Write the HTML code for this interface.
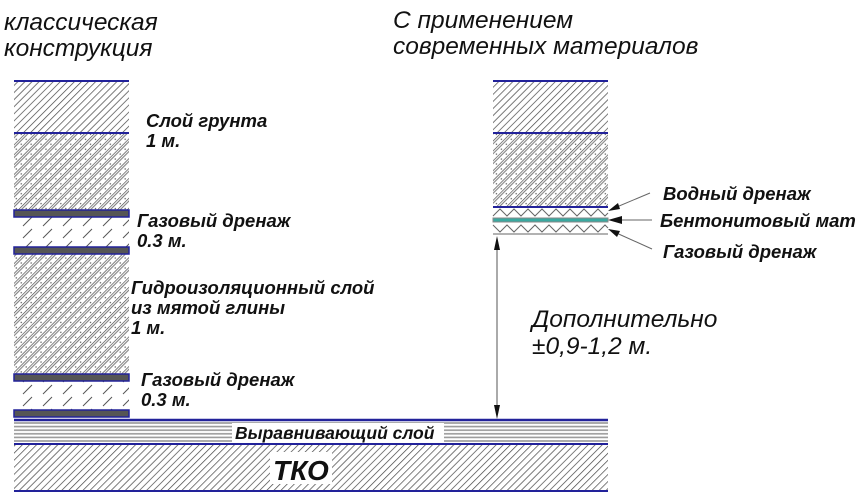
<!DOCTYPE html>
<html><head><meta charset="utf-8"><style>
html,body{margin:0;padding:0;background:#fff;width:864px;height:495px;overflow:hidden}
svg{display:block}
.t{font-family:"Liberation Sans","DejaVu Sans",sans-serif;font-style:italic;font-weight:bold;font-size:18.5px;fill:#111}
.h{font-family:"Liberation Sans","DejaVu Sans",sans-serif;font-style:italic;font-size:24.5px;fill:#111}
</style></head><body>
<svg width="864" height="495" viewBox="0 0 864 495">
<defs>
<pattern id="dense" width="5" height="5" patternUnits="userSpaceOnUse" patternTransform="rotate(45)">
<rect width="5" height="5" fill="#fff"/><line x1="0" y1="0" x2="0" y2="5" stroke="#444" stroke-width="1.4"/>
</pattern>
<pattern id="sand" width="7" height="7" patternUnits="userSpaceOnUse" patternTransform="rotate(45)">
<rect width="7" height="7" fill="#fff"/><line x1="0" y1="0" x2="0" y2="7" stroke="#444" stroke-width="1.3"/>
<line x1="2.3" y1="0" x2="2.3" y2="7" stroke="#666" stroke-width="0.9"/>
<circle cx="5" cy="3" r="0.7" fill="#555"/>
</pattern>
<pattern id="sparse" width="20" height="12" patternUnits="userSpaceOnUse">
<rect width="20" height="12" fill="#fff"/><line x1="3" y1="10" x2="12" y2="1" stroke="#555" stroke-width="1"/>
</pattern>
<pattern id="horiz" width="10" height="3.6" patternUnits="userSpaceOnUse">
<rect width="10" height="3.6" fill="#fff"/><line x1="0" y1="1.8" x2="10" y2="1.8" stroke="#999" stroke-width="1.6"/>
</pattern>
</defs>

<text class="h" x="4" y="30">классическая</text>
<text class="h" x="4" y="56">конструкция</text>
<text class="h" x="393" y="28">С применением</text>
<text class="h" x="393" y="54">современных материалов</text>

<rect x="14" y="81" width="115" height="52" fill="url(#dense)"/>
<rect x="14" y="133" width="115" height="77" fill="url(#sand)"/>
<rect x="14" y="217" width="115" height="30" fill="url(#sparse)"/>
<rect x="14" y="254" width="115" height="120" fill="url(#sand)"/>
<rect x="14" y="381" width="115" height="29" fill="url(#sparse)"/>
<line x1="14" y1="81" x2="129" y2="81" stroke="#22229a" stroke-width="2"/>
<line x1="14" y1="133" x2="129" y2="133" stroke="#22229a" stroke-width="2"/>
<g fill="#555" stroke="#22229a" stroke-width="1.5">
<rect x="14" y="210" width="115" height="7"/>
<rect x="14" y="247" width="115" height="7"/>
<rect x="14" y="374" width="115" height="7"/>
<rect x="14" y="410" width="115" height="7"/>
</g>

<text class="t" x="146" y="127">Слой грунта</text>
<text class="t" x="146" y="147">1 м.</text>
<text class="t" x="137" y="227">Газовый дренаж</text>
<text class="t" x="137" y="247">0.3 м.</text>
<text class="t" x="131" y="294">Гидроизоляционный слой</text>
<text class="t" x="131" y="314">из мятой глины</text>
<text class="t" x="131" y="334">1 м.</text>
<text class="t" x="141" y="386">Газовый дренаж</text>
<text class="t" x="141" y="406">0.3 м.</text>

<rect x="493" y="81" width="115" height="52" fill="url(#dense)"/>
<rect x="493" y="133" width="115" height="74" fill="url(#sand)"/>
<line x1="493" y1="81" x2="608" y2="81" stroke="#22229a" stroke-width="2"/>
<line x1="493" y1="133" x2="608" y2="133" stroke="#22229a" stroke-width="2"/>
<line x1="493" y1="207" x2="608" y2="207" stroke="#22229a" stroke-width="2"/>
<polyline points="493,216 500,209 507,216 514,209 521,216 528,209 535,216 542,209 549,216 556,209 563,216 570,209 577,216 584,209 591,216 598,209 605,216 608,213" fill="none" stroke="#666" stroke-width="1"/>
<rect x="493" y="218" width="115" height="4" fill="#3aa9a0" stroke="#888" stroke-width="1"/>
<polyline points="493,225 500,232 507,225 514,232 521,225 528,232 535,225 542,232 549,225 556,232 563,225 570,232 577,225 584,232 591,225 598,232 605,225 608,228" fill="none" stroke="#666" stroke-width="1"/>
<line x1="493" y1="234" x2="608" y2="234" stroke="#999" stroke-width="1.5"/>

<line x1="650" y1="193" x2="612" y2="209" stroke="#666" stroke-width="1"/>
<polygon points="608,211 618,203 620,209" fill="#111"/>
<line x1="652" y1="220" x2="610" y2="220" stroke="#666" stroke-width="1"/>
<polygon points="608,220 622,216 622,224" fill="#111"/>
<line x1="652" y1="249" x2="612" y2="231" stroke="#666" stroke-width="1"/>
<polygon points="608,229 620,231 617,237" fill="#111"/>
<text class="t" x="663" y="200">Водный дренаж</text>
<text class="t" x="660" y="227">Бентонитовый мат</text>
<text class="t" x="663" y="258">Газовый дренаж</text>

<line x1="497" y1="240" x2="497" y2="414" stroke="#555" stroke-width="1"/>
<polygon points="497,236 494,250 500,250" fill="#111"/>
<polygon points="497,419 494,405 500,405" fill="#111"/>
<text class="h" x="532" y="327">Дополнительно</text>
<text class="h" x="532" y="354">±0,9-1,2 м.</text>

<rect x="14" y="421" width="594" height="21" fill="url(#horiz)"/>
<rect x="14" y="445" width="594" height="45" fill="url(#dense)"/>
<line x1="14" y1="420" x2="608" y2="420" stroke="#22229a" stroke-width="2.5"/>
<line x1="14" y1="444" x2="608" y2="444" stroke="#22229a" stroke-width="2"/>
<line x1="14" y1="491" x2="608" y2="491" stroke="#22229a" stroke-width="2"/>
<rect x="232" y="423" width="212" height="19" fill="#fff"/>
<text class="t" x="235" y="439" style="font-size:17.5px">Выравнивающий слой</text>
<rect x="270" y="452" width="62" height="32" fill="#fff"/>
<text x="273" y="480" style="font-family:'Liberation Sans',sans-serif;font-style:italic;font-weight:bold;font-size:28px;fill:#111">ТКО</text>
</svg>
</body></html>
